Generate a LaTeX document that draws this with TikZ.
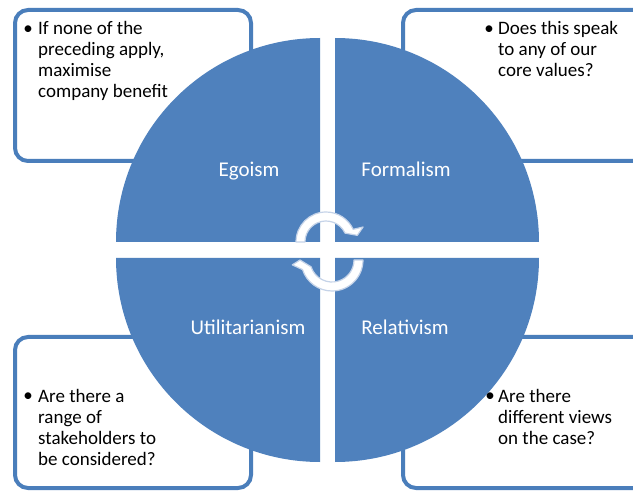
\documentclass[tikz,border=0pt]{standalone}
\usepackage{fontspec}
\setmainfont{Carlito}
\usepackage{tikz}
\definecolor{quadBlue}{HTML}{4F81BD}
\definecolor{frameBlue}{HTML}{4A7EBB}
\definecolor{arrowEdge}{HTML}{C5D3E8}

\tikzset{
  quadrant/.style={fill=quadBlue},
  notebox/.style={draw=frameBlue, line width=4pt, fill=white, rounded corners=13pt},
  notetext/.style={anchor=base west, align=left, inner sep=0pt, font=\fontsize{19}{21}\selectfont},
  notebullet/.style={anchor=base, inner sep=0pt, font=\fontsize{19}{21}\selectfont},
  quadlabel/.style={anchor=base, text=white, inner sep=0pt, font=\fontsize{21}{25}\selectfont},
  cyclearrow/.style={fill=white, draw=arrowEdge, line width=1.2pt, line join=round},
}

\begin{document}
\begin{tikzpicture}[x=1pt, y=1pt]
    \useasboundingbox (0,0) rectangle (633,491);
    \clip (0,0) rectangle (633,491);
    \fill[white] (0,0) rectangle (633,491);

    % note boxes, partly hidden by the circle
    \draw[notebox] (15,330) rectangle (251,481);
    \draw[notebox] (403,330) rectangle (655,481);
    \draw[notebox] (15,3) rectangle (251,154);
    \draw[notebox] (403,3) rectangle (655,154);

    % four quarter discs
    \fill[quadrant] (320,249) -- ++(-204,0) arc[start angle=180, end angle=90, radius=204] -- cycle;
    \fill[quadrant] (335,249) -- ++(0,204) arc[start angle=90, end angle=0, radius=204] -- cycle;
    \fill[quadrant] (320,233) -- ++(0,-204) arc[start angle=270, end angle=180, radius=204] -- cycle;
    \fill[quadrant] (335,233) -- ++(204,0) arc[start angle=0, end angle=-90, radius=204] -- cycle;

    % circular arrows in the middle
    \begin{scope}[shift={(326,249)}]
        \draw[cyclearrow] (180:30) arc[start angle=180, end angle=25, radius=30]
            -- (22:40) -- (12:32) -- (25:21) arc[start angle=25, end angle=180, radius=21] -- cycle;
    \end{scope}
    \begin{scope}[shift={(332,231)}]
        \draw[cyclearrow] (0:31) arc[start angle=0, end angle=-162, radius=31]
            -- (-173:40) -- (-180:32) -- (-162:22) arc[start angle=-162, end angle=0, radius=22] -- cycle;
    \end{scope}

    \node[quadlabel] (egoism) at (249,314) {Egoism};
    \node[quadlabel] (formalism) at (406,314) {Formalism};
    \node[quadlabel] (utilitarianism) at (248,156) {Utilitarianism};
    \node[quadlabel] (relativism) at (405,156) {Relativism};

    % multi-line notes sit on the baseline of their last line
    \node[notebullet] (egoismDot) at (28,456) {\textbullet};
    \node[notetext] (egoismNote) at (38,393) {If none of the\\preceding apply,\\maximise\\company benefit};
    \node[notebullet] (formalismDot) at (489,456) {\textbullet};
    \node[notetext] (formalismNote) at (498,414) {Does this speak\\to any of our\\core values?};
    \node[notebullet] (utilitarianismDot) at (28,89) {\textbullet};
    \node[notetext] (utilitarianismNote) at (38,26) {Are there a\\range of\\stakeholders to\\be considered?};
    \node[notebullet] (relativismDot) at (490,89) {\textbullet};
    \node[notetext] (relativismNote) at (498,47) {Are there\\different views\\on the case?};
\end{tikzpicture}
\end{document}
